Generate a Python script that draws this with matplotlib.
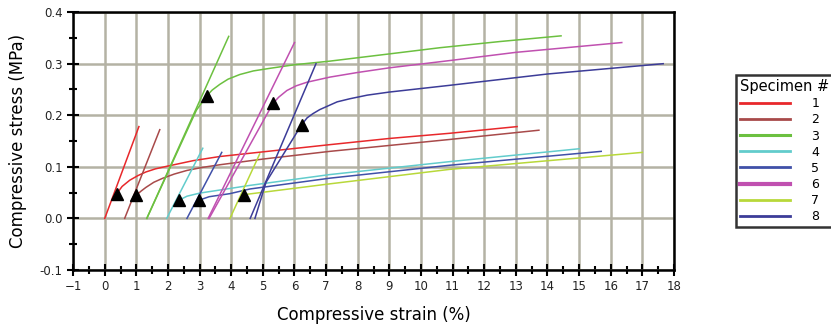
import matplotlib
matplotlib.use("Agg")
import matplotlib.pyplot as plt
from matplotlib.ticker import MultipleLocator, FormatStrFormatter
from matplotlib.lines import Line2D

# --- Data ---------------------------------------------------------------------

specimens = ["1", "2", "3", "4", "5", "6", "7", "8"]
colors = ["#e8282b", "#a84a4a", "#6cc040", "#62cccc", "#4050a8", "#c050b0", "#b8d83a", "#3c3c98"]
legend_widths = [2.0, 2.0, 2.2, 2.0, 2.0, 3.0, 2.0, 2.0]

# stress-strain curves (strain %, stress MPa)
curve_x = [
    [0.38, 0.55, 0.79, 1.05, 1.3, 1.6, 1.96, 2.8, 3.64, 5.0, 7.12, 9.0, 10.9, 13.04],
    [1.0, 1.15, 1.3, 1.55, 1.84, 2.2, 2.6, 3.1, 3.64, 5.0, 7.12, 10.9, 13.73],
    [1.33, 2.9, 3.23, 3.4, 3.64, 3.9, 4.27, 4.7, 5.22, 6.0, 7.12, 9.0, 10.6, 12.5, 14.43],
    [2.34, 2.6, 3.0, 3.96, 4.59, 7.12, 10.9, 15.0],
    [2.97, 3.3, 3.96, 4.59, 7.12, 10.9, 15.7],
    [3.3, 5.32, 5.5, 5.76, 6.05, 6.39, 7.12, 8.0, 9.0, 10.9, 13.0, 16.35],
    [4.4, 7.12, 10.9, 17.0],
    [4.75, 5.1, 6.23, 6.4, 6.58, 6.8, 7.02, 7.35, 7.75, 8.3, 9.0, 10.9, 14.0, 17.66],
]
curve_y = [
    [0.048, 0.062, 0.074, 0.083, 0.090, 0.096, 0.101, 0.112, 0.120, 0.129, 0.143, 0.155, 0.165, 0.178],
    [0.045, 0.053, 0.060, 0.070, 0.078, 0.086, 0.093, 0.099, 0.104, 0.115, 0.130, 0.153, 0.171],
    [0.0, 0.21, 0.238, 0.249, 0.260, 0.270, 0.279, 0.286, 0.291, 0.298, 0.305, 0.319, 0.331, 0.343, 0.354],
    [0.035, 0.043, 0.049, 0.058, 0.064, 0.085, 0.110, 0.135],
    [0.035, 0.042, 0.048, 0.057, 0.078, 0.103, 0.130],
    [0.0, 0.223, 0.235, 0.248, 0.257, 0.264, 0.274, 0.283, 0.292, 0.306, 0.322, 0.341],
    [0.046, 0.067, 0.095, 0.128],
    [0.0, 0.07, 0.182, 0.195, 0.203, 0.211, 0.217, 0.226, 0.232, 0.239, 0.245, 0.258, 0.280, 0.300],
]

# modulus (straight) lines: start and end points
line_x = [[0.0, 1.08], [0.63, 1.74], [1.33, 3.92], [1.96, 3.1],
          [2.6, 3.7], [3.27, 6.0], [3.96, 4.9], [4.6, 6.68]]
line_y = [[0.0, 0.178], [0.0, 0.172], [0.0, 0.353], [0.0, 0.136],
          [0.0, 0.128], [0.0, 0.341], [0.0, 0.125], [0.0, 0.30]]

# triangle markers
mark_x = [0.38, 1.0, 3.23, 2.34, 2.97, 5.32, 4.4, 6.23]
mark_y = [0.048, 0.045, 0.238, 0.035, 0.035, 0.223, 0.046, 0.182]

# --- Plot ---------------------------------------------------------------------

fig = plt.figure(figsize=(8.31, 3.28), dpi=100)
ax = fig.add_axes([0.088, 0.177, 0.723, 0.786])

for i in range(len(specimens)):
    ax.plot(line_x[i], line_y[i], color=colors[i], lw=1.1, zorder=3)
    ax.plot(curve_x[i], curve_y[i], color=colors[i], lw=1.1, zorder=3)
ax.plot(mark_x, mark_y, linestyle="none", marker="^", color="black", markersize=8.5, zorder=5)

ax.set_xlim(-1, 18)
ax.set_ylim(-0.1, 0.4)
ax.xaxis.set_major_locator(MultipleLocator(1))
ax.xaxis.set_minor_locator(MultipleLocator(0.5))
ax.yaxis.set_major_locator(MultipleLocator(0.1))
ax.yaxis.set_minor_locator(MultipleLocator(0.05))
ax.yaxis.set_major_formatter(FormatStrFormatter("%.1f"))

ax.grid(True, which="major", color="#b4b2a4", lw=1.8, zorder=1)
ax.tick_params(which="major", direction="inout", length=8, width=1.5, labelsize=8.5,
               colors="black", labelcolor="#222222")
ax.tick_params(which="minor", direction="inout", length=6, width=1.5)
for sp in ax.spines.values():
    sp.set_linewidth(1.8)
    sp.set_zorder(6)

ax.set_xlabel("Compressive strain (%)", fontsize=12, labelpad=9)
ax.set_ylabel("Compressive stress (MPa)", fontsize=12, labelpad=9)

handles = [Line2D([], [], color=colors[i], lw=legend_widths[i]) for i in range(len(specimens))]
leg = fig.legend(handles, specimens, title="Specimen #", loc="upper left",
                 bbox_to_anchor=(0.886, 0.77), fontsize=9, title_fontsize=10.5,
                 frameon=True, fancybox=False, edgecolor="black", handlelength=4.0,
                 handletextpad=1.7, labelspacing=0.25, borderpad=0.3, borderaxespad=0,
                 alignment="left")
leg.get_frame().set_linewidth(1.8)

fig.savefig("out.png", dpi=100)
